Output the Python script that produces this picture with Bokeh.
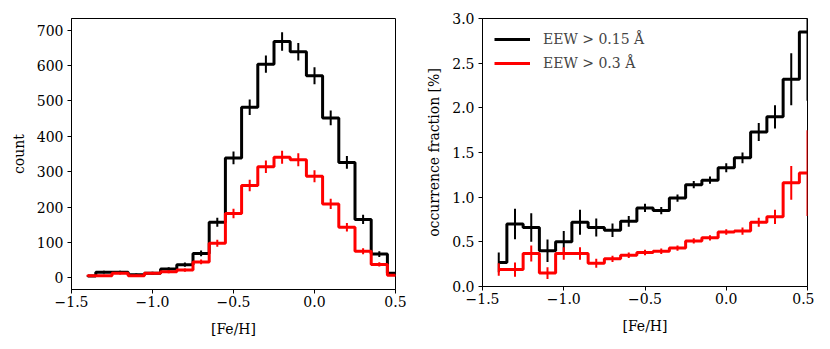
from bokeh.plotting import figure
from bokeh.layouts import row
from bokeh.models import FixedTicker, Range1d, ColumnDataSource, Legend, LegendItem
from bokeh.embed import file_html
from bokeh.resources import INLINE

feh = [-1.4, -1.3, -1.2, -1.1, -1.0, -0.9, -0.8, -0.7, -0.6, -0.5,
       -0.4, -0.3, -0.2, -0.1, 0.0, 0.1, 0.2, 0.3, 0.4, 0.5]

count_015 = [5, 16, 16, 9, 13, 25, 37, 69, 157, 339, 482, 604, 668, 639, 571, 452, 326, 165, 67, 13]
count_015_err = [2, 4, 4, 3, 4, 5, 6, 8, 12.5, 18, 22, 24.6, 26, 25, 24, 21, 18, 13, 8, 3.6]
count_03 = [6, 6, 13, 6, 13, 17, 22, 45, 98, 182, 261, 314, 341, 334, 287, 209, 143, 75, 38, 7]
count_03_err = [2.4, 2.4, 3.6, 2.4, 3.6, 4.1, 4.7, 6.7, 9.9, 13.5, 16.2, 17.7, 18.5, 18.3, 16.9, 14.5, 12, 8.7, 6.2, 2.6]

frac_015 = [0.27, 0.70, 0.66, 0.40, 0.50, 0.72, 0.66, 0.63, 0.73, 0.88,
            0.85, 0.99, 1.14, 1.19, 1.33, 1.44, 1.73, 1.90, 2.32, 2.85]
frac_015_err = [0.11, 0.17, 0.16, 0.125, 0.12, 0.14, 0.10, 0.075, 0.06, 0.047,
                0.04, 0.04, 0.04, 0.04, 0.05, 0.06, 0.10, 0.13, 0.29, 0.77]
frac_03 = [0.19, 0.19, 0.37, 0.15, 0.37, 0.37, 0.26, 0.31, 0.35, 0.38,
           0.395, 0.43, 0.51, 0.545, 0.61, 0.62, 0.72, 0.78, 1.16, 1.27]
frac_03_err = [0.07, 0.08, 0.09, 0.065, 0.07, 0.07, 0.05, 0.035, 0.03, 0.03,
               0.03, 0.03, 0.03, 0.03, 0.03, 0.04, 0.05, 0.08, 0.19, 0.48]

x_ticks = [-1.5, -1.0, -0.5, 0.0, 0.5]
x_tick_labels = ["\u22121.5", "\u22121.0", "\u22120.5", "0.0", "0.5"]
count_ticks = [0, 100, 200, 300, 400, 500, 600, 700]
frac_ticks = [0.0, 0.5, 1.0, 1.5, 2.0, 2.5, 3.0]
frac_tick_labels = ["0.0", "0.5", "1.0", "1.5", "2.0", "2.5", "3.0"]

labels = ["EEW > 0.15 \u00c5", "EEW > 0.3 \u00c5"]
colors = ["black", "red"]

FONT = "DejaVu Serif"
FS = "14px"


def style(p):
    p.outline_line_color = "black"
    p.outline_line_width = 1
    p.grid.visible = False
    p.background_fill_color = "white"
    p.border_fill_color = "white"
    for ax in (p.xaxis[0], p.yaxis[0]):
        ax.axis_line_color = "black"
        ax.major_tick_out = 4
        ax.major_tick_in = 0
        ax.minor_tick_line_color = None
        ax.major_label_text_font = FONT
        ax.major_label_text_font_size = FS
        ax.major_label_text_color = "black"
        ax.axis_label_text_font = FONT
        ax.axis_label_text_font_size = FS
        ax.axis_label_text_font_style = "normal"
        ax.axis_label_text_color = "black"
        ax.major_label_standoff = 4
    p.xaxis[0].ticker = FixedTicker(ticks=x_ticks)
    p.xaxis[0].major_label_overrides = {t: l for t, l in zip(x_ticks, x_tick_labels)}
    p.xaxis[0].axis_label = "[Fe/H]"
    p.xaxis[0].major_label_standoff = 2
    p.xaxis[0].axis_label_standoff = 11
    p.yaxis[0].axis_label_standoff = 7


def draw(p, ys, errs):
    renderers = []
    for y, e, c in zip(ys, errs, colors):
        src = ColumnDataSource(dict(x=feh, y=y,
                                    lo=[a - b for a, b in zip(y, e)],
                                    hi=[a + b for a, b in zip(y, e)]))
        r = p.step("x", "y", source=src, mode="center", line_color=c, line_width=3)
        p.segment(x0="x", y0="lo", x1="x", y1="hi", source=src, line_color=c, line_width=2)
        renderers.append(r)
    return renderers


p1 = figure(frame_width=324, frame_height=271, output_backend="svg", toolbar_location=None,
            x_range=Range1d(-1.5, 0.5), y_range=Range1d(-33, 733),
            min_border_left=71, min_border_right=25, min_border_top=16, min_border_bottom=46)
style(p1)
p1.yaxis[0].ticker = FixedTicker(ticks=count_ticks)
p1.yaxis[0].axis_label = "count"
draw(p1, [count_015, count_03], [count_015_err, count_03_err])

p2 = figure(frame_width=325, frame_height=268, output_backend="svg", toolbar_location=None,
            x_range=Range1d(-1.5, 0.5), y_range=Range1d(0.0, 3.0),
            min_border_left=62, min_border_right=7, min_border_top=18, min_border_bottom=47)
style(p2)
p2.yaxis[0].ticker = FixedTicker(ticks=frac_ticks)
p2.yaxis[0].major_label_overrides = {t: l for t, l in zip(frac_ticks, frac_tick_labels)}
p2.yaxis[0].axis_label = "occurrence fraction [%]"
rs = draw(p2, [frac_015, frac_03], [frac_015_err, frac_03_err])

legend = Legend(items=[LegendItem(label=l, renderers=[r]) for l, r in zip(labels, rs)],
                location="top_left", margin=2, padding=10, spacing=6,
                glyph_width=36, glyph_height=18, label_standoff=13,
                label_text_font=FONT, label_text_font_size=FS,
                border_line_alpha=0, background_fill_alpha=0)
p2.add_layout(legend)

layout = row(p1, p2)
open("out.html", "w").write(file_html(layout, INLINE))
